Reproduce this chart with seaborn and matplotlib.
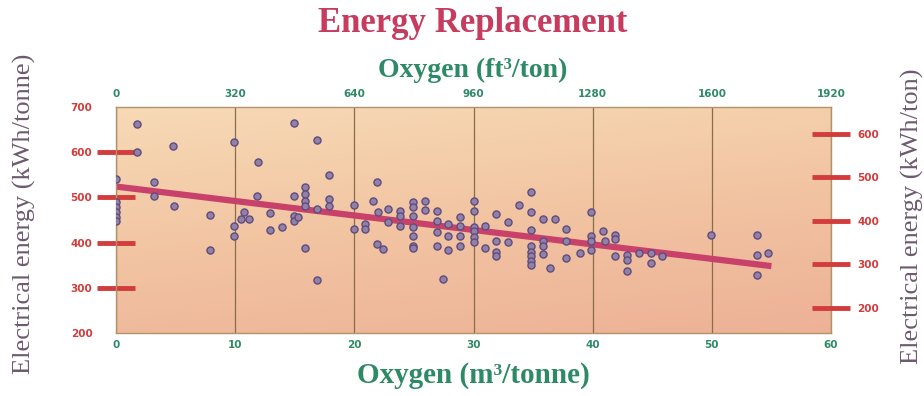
import numpy as np
import pandas as pd
import matplotlib
matplotlib.use("Agg")
import matplotlib.pyplot as plt
import seaborn as sns
from matplotlib.colors import LinearSegmentedColormap

sns.set_theme(style="white")
plt.rcParams['font.family'] = ['DejaVu Sans']

# ---------------- data ----------------
oxygen_m3 = [0, 0, 0, 0, 0, 0,
             1.8, 1.8, 3.2, 3.2, 4.8, 4.9, 7.9, 7.9,
             9.9, 9.9, 9.9, 10.7, 10.5, 11.2, 11.9, 11.8,
             12.9, 12.9, 13.9, 14.9, 14.9, 14.9, 14.9, 15.3,
             15.9, 15.9, 15.9, 15.9, 15.9, 16.9, 16.9, 16.9,
             17.9, 17.9, 17.9, 20.0, 20.0, 20.9, 20.9, 21.6,
             21.9, 21.9, 22.0, 22.4, 22.8, 22.8, 23.8, 23.8, 23.8,
             24.9, 24.9, 24.9, 24.9, 24.9, 24.9, 24.9, 25.9, 25.9,
             26.9, 26.9, 26.9, 26.9, 27.4, 27.9, 27.9, 27.9,
             28.9, 28.9, 28.9, 28.9, 30.0, 30.0, 30.0, 30.0, 30.0, 30.0,
             31.0, 31.0, 31.9, 31.9, 31.9, 31.9, 32.9, 32.9, 33.8,
             34.8, 34.8, 34.8, 34.8, 34.8, 34.8, 34.8, 34.8,
             35.8, 35.8, 35.8, 35.8, 36.4, 36.8, 37.8, 37.8, 37.8,
             38.9, 39.9, 39.9, 39.9, 39.9, 40.9, 41.0, 41.9, 41.9, 41.9,
             42.9, 42.9, 42.9, 43.9, 44.9, 44.9, 45.8, 49.9,
             53.8, 53.8, 53.8, 54.7]
energy_kwh = [541, 490, 478, 467, 457, 447,
              663, 600, 533, 503, 613, 480, 461, 383,
              622, 437, 415, 467, 452, 452, 578, 504,
              465, 428, 435, 665, 502, 459, 448, 457,
              524, 508, 491, 480, 387, 626, 474, 317,
              550, 496, 480, 483, 430, 441, 430, 491,
              533, 396, 467, 385, 474, 446, 470, 459, 437,
              489, 478, 459, 435, 415, 393, 387, 493, 472,
              470, 448, 424, 393, 320, 441, 415, 383,
              457, 437, 415, 393, 493, 470, 435, 426, 413, 402,
              437, 389, 463, 404, 380, 370, 446, 402, 483,
              511, 467, 428, 393, 380, 370, 359, 350,
              452, 404, 393, 374, 343, 452, 430, 404, 367,
              378, 467, 415, 404, 383, 426, 404, 417, 407, 370,
              372, 361, 337, 376, 376, 354, 370, 417,
              417, 372, 328, 378]
fit_x = [0, 55]
fit_y = [524, 348]

bottom_ticks = [0, 10, 20, 30, 40, 50, 60]
top_ticks = [0, 320, 640, 960, 1280, 1600, 1920]
left_ticks = [200, 300, 400, 500, 600, 700]
left_dash_ticks = [300, 400, 500, 600]
right_ticks = [200, 300, 400, 500, 600]

df = pd.DataFrame({"oxygen": oxygen_m3, "energy": energy_kwh})
fit = pd.DataFrame({"oxygen": fit_x, "energy": fit_y})

# ---------------- styling ----------------
RED = '#D23C3C'
GREEN = '#2E8A66'
TITLE = '#C63B5E'
LABEL = '#6E5A70'
SERIF = ['Liberation Serif', 'DejaVu Serif']

fig = plt.figure(figsize=(9.24, 3.96), dpi=100)
ax = fig.add_axes([116 / 924, 63 / 396, 715 / 924, 226 / 396])

# gradient background of the plotting area
gx, gy = np.meshgrid(np.linspace(0, 1, 200), np.linspace(0, 1, 200))
grad = 0.75 * gy + 0.25 * gx
cmap = LinearSegmentedColormap.from_list('peach', ['#F7DAB6', '#F2C4A2', '#EDB197'])
ax.imshow(grad, extent=[0, 1, 0, 1], transform=ax.transAxes, aspect='auto',
          cmap=cmap, origin='upper', zorder=0, interpolation='bilinear')

sns.lineplot(data=fit, x="oxygen", y="energy", ax=ax, color='#C8416A', lw=4.5,
             zorder=2.5, solid_capstyle='butt')
sns.scatterplot(data=df, x="oxygen", y="energy", ax=ax, marker='o', s=26,
                color='#9280A8', edgecolor='#5E4C7C', linewidth=1.0, zorder=3)

ax.set_xlim(0, 60)
ax.set_ylim(200, 700)
ax.set_xticks(bottom_ticks)
ax.set_yticks(left_ticks)
ax.yaxis.remove_overlapping_locs = False
ax.set_yticks(left_dash_ticks, minor=True)
ax.set_xlabel('')
ax.set_ylabel('')
ax.grid(axis='x', color='#8C6C48', lw=0.9, zorder=1)
ax.grid(axis='y', visible=False)
for s in ax.spines.values():
    s.set_color('#B0936A')
    s.set_linewidth(1.0)
ax.tick_params(axis='x', length=0, pad=5, labelcolor=GREEN, labelsize=7.5)
ax.tick_params(axis='y', which='major', length=0, pad=17, labelcolor=RED, labelsize=7.5)
ax.tick_params(axis='y', which='minor', length=28, width=3.5, color=RED,
               direction='inout', left=True)
for lab in ax.get_xticklabels() + ax.get_yticklabels():
    lab.set_fontweight('bold')

# right axis (kWh/ton)
ax2 = ax.twinx()
ax2.set_ylim(142, 661)
ax2.set_yticks(right_ticks)
ax2.tick_params(axis='y', length=28, width=3.5, color=RED, direction='inout',
                pad=5, labelcolor=RED, labelsize=7.5, right=True)
for lab in ax2.get_yticklabels():
    lab.set_fontweight('bold')
for s in ax2.spines.values():
    s.set_visible(False)

# top axis (ft3/ton)
ax3 = ax.twiny()
ax3.set_xlim(0, 1920)
ax3.set_xticks(top_ticks)
ax3.tick_params(axis='x', length=0, pad=6, labelcolor=GREEN, labelsize=7.5)
for lab in ax3.get_xticklabels():
    lab.set_fontweight('bold')
for s in ax3.spines.values():
    s.set_visible(False)

# texts
fig.text(0.512, 0.94, 'Energy Replacement', ha='center', va='center',
         fontsize=25, fontweight='bold', family=SERIF, color=TITLE)
fig.text(0.512, 0.822, 'Oxygen (ft³/ton)', ha='center', va='center',
         fontsize=20, fontweight='bold', family=SERIF, color=GREEN)
fig.text(0.512, 0.053, 'Oxygen (m³/tonne)', ha='center', va='center',
         fontsize=21, fontweight='bold', family=SERIF, color=GREEN)
fig.text(0.026, 0.46, 'Electrical energy (kWh/tonne)', ha='center', va='center',
         rotation=90, fontsize=19, family=SERIF, color=LABEL)
fig.text(0.988, 0.455, 'Electrical energy (kWh/ton)', ha='center', va='center',
         rotation=90, fontsize=19, family=SERIF, color=LABEL)

fig.savefig('out.png', dpi=100, facecolor='white')
